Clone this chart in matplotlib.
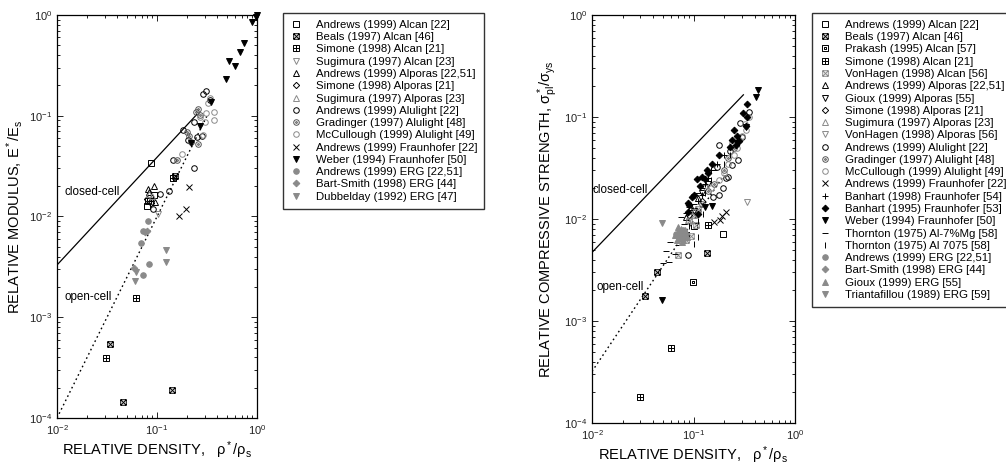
import matplotlib
matplotlib.use("Agg")
import matplotlib.pyplot as plt
from matplotlib.path import Path

plt.rcParams['font.family'] = ['Liberation Sans', 'DejaVu Sans']
plt.rcParams['mathtext.fontset'] = 'custom'
plt.rcParams['mathtext.rm'] = 'Liberation Sans'
plt.rcParams['mathtext.it'] = 'Liberation Sans:italic'

# ---------------- data: relative modulus (left) ----------------
E_andrews_alcan = [(0.088, 0.034), (0.082, 0.0143), (0.080, 0.0127), (0.093, 0.0163), (0.085, 0.0152)]
E_beals_alcan = [(0.034, 5.4e-4), (0.046, 1.45e-4), (0.142, 1.9e-4), (0.152, 0.0255)]
E_simone_alcan = [(0.031, 3.9e-4), (0.061, 1.55e-3), (0.146, 0.024)]
E_sugimura_alcan = [(0.103, 0.0105)]
E_andrews_alporas = [(0.093, 0.0203), (0.082, 0.0188), (0.095, 0.0140), (0.083, 0.0175)]
E_simone_alporas = [(0.087, 0.0135), (0.079, 0.0150)]
E_sugimura_alporas = [(0.083, 0.0166), (0.090, 0.0160)]
E_andrews_alulight = [(0.106, 0.0169), (0.091, 0.0118), (0.133, 0.018), (0.234, 0.030), (0.143, 0.036),
                      (0.309, 0.177), (0.29, 0.163), (0.34, 0.143), (0.234, 0.086), (0.183, 0.072),
                      (0.205, 0.058), (0.25, 0.061), (0.28, 0.063)]
E_gradinger = [(0.26, 0.116), (0.27, 0.102), (0.20, 0.069), (0.22, 0.055), (0.26, 0.053),
               (0.16, 0.036), (0.21, 0.063), (0.245, 0.11)]
E_mccullough = [(0.325, 0.133), (0.37, 0.11), (0.37, 0.091), (0.31, 0.106), (0.30, 0.087),
                (0.27, 0.098), (0.176, 0.042), (0.29, 0.065), (0.335, 0.15)]
E_andrews_fraun = [(0.21, 0.0195), (0.195, 0.0118), (0.166, 0.010)]
E_weber = [(1.0, 1.0), (0.98, 0.96), (0.885, 0.86), (0.74, 0.53), (0.68, 0.43), (0.52, 0.35),
           (0.60, 0.31), (0.49, 0.23), (0.35, 0.138), (0.27, 0.08), (0.22, 0.054)]
E_andrews_erg = [(0.082, 0.0091), (0.072, 0.0071), (0.069, 0.0055), (0.083, 0.0034), (0.072, 0.0026)]
E_bartsmith = [(0.079, 0.0071), (0.059, 0.0031), (0.075, 0.0070)]
E_dubbelday = [(0.122, 0.0046), (0.122, 0.0035), (0.061, 0.0028), (0.060, 0.0023)]

E_closed_line = [(0.01, 0.0033), (0.25, 0.103)]
E_open_line = [(0.01, 1e-4), (0.32, 0.102)]

# ---------------- data: relative strength (right) ----------------
S_andrews_alcan = [(0.197, 0.0071), (0.083, 0.0068), (0.10, 0.0085)]
S_beals_alcan = [(0.044, 0.0030), (0.033, 0.00177), (0.137, 0.0046)]
S_prakash_alcan = [(0.098, 0.0024), (0.085, 0.0069)]
S_simone_alcan = [(0.030, 1.8e-4), (0.060, 5.4e-4), (0.140, 0.0087)]
S_vonhagen_alcan = [(0.071, 0.0044), (0.080, 0.0075), (0.090, 0.0095), (0.100, 0.011), (0.085, 0.0062),
                    (0.095, 0.0068), (0.110, 0.0125), (0.075, 0.0069), (0.105, 0.0088)]
S_andrews_alporas = [(0.085, 0.0105), (0.11, 0.016), (0.095, 0.013)]
S_gioux_alporas = [(0.12, 0.018), (0.14, 0.022), (0.10, 0.012)]
S_simone_alporas = [(0.09, 0.011), (0.12, 0.015)]
S_sugimura_alporas = [(0.088, 0.0098), (0.10, 0.012)]
S_vonhagen_alporas = [(0.334, 0.0146), (0.13, 0.020)]
S_andrews_alulight = [(0.155, 0.0165), (0.178, 0.017), (0.35, 0.113), (0.29, 0.087), (0.30, 0.064),
                      (0.18, 0.053), (0.23, 0.046), (0.277, 0.038), (0.24, 0.034), (0.169, 0.032),
                      (0.22, 0.026), (0.21, 0.025), (0.197, 0.020), (0.089, 0.0044)]
S_gradinger = [(0.20, 0.030), (0.25, 0.050), (0.16, 0.022), (0.22, 0.040), (0.12, 0.014), (0.14, 0.019)]
S_mccullough = [(0.35, 0.10), (0.33, 0.075), (0.30, 0.065), (0.27, 0.050), (0.25, 0.042), (0.22, 0.035),
                (0.20, 0.028), (0.28, 0.060), (0.24, 0.055), (0.18, 0.024), (0.32, 0.085), (0.15, 0.020)]
S_andrews_fraun = [(0.16, 0.0094), (0.183, 0.0098), (0.19, 0.0107), (0.21, 0.0117)]
S_banhart98 = [(0.13, 0.022), (0.15, 0.030), (0.17, 0.035), (0.12, 0.017), (0.20, 0.042),
               (0.11, 0.015), (0.14, 0.025)]
S_banhart95 = [(0.334, 0.134), (0.31, 0.109), (0.334, 0.099), (0.33, 0.081), (0.25, 0.075), (0.24, 0.060),
               (0.26, 0.053), (0.23, 0.051), (0.18, 0.042), (0.151, 0.035), (0.135, 0.030), (0.13, 0.0245),
               (0.116, 0.021), (0.108, 0.0245), (0.10, 0.0173), (0.089, 0.0144), (0.096, 0.0165),
               (0.089, 0.0118), (0.111, 0.0113), (0.091, 0.0137), (0.27, 0.065), (0.28, 0.058),
               (0.12, 0.026), (0.14, 0.028)]
S_weber = [(0.435, 0.184), (0.41, 0.158), (0.33, 0.080), (0.151, 0.0133), (0.049, 0.0016),
           (0.13, 0.013), (0.27, 0.055)]
S_thornton_mg = [(0.059, 0.006), (0.058, 0.0038), (0.050, 0.0037), (0.054, 0.0049), (0.065, 0.0045),
                 (0.070, 0.0055), (0.080, 0.009), (0.10, 0.014), (0.12, 0.020), (0.09, 0.013),
                 (0.11, 0.018), (0.14, 0.028), (0.075, 0.0105), (0.16, 0.030), (0.085, 0.0115)]
S_thornton_7075 = [(0.101, 0.0057), (0.111, 0.0067), (0.123, 0.0113), (0.13, 0.018), (0.15, 0.024),
                   (0.09, 0.0085), (0.20, 0.035), (0.23, 0.042), (0.11, 0.0095)]
S_andrews_erg = [(0.072, 0.0068), (0.078, 0.0078), (0.068, 0.0072)]
S_bartsmith = [(0.075, 0.0065), (0.080, 0.0072)]
S_gioux_erg = [(0.066, 0.0070), (0.070, 0.0075), (0.072, 0.0065), (0.075, 0.0080), (0.078, 0.0062),
               (0.080, 0.0070), (0.069, 0.0062), (0.074, 0.0072), (0.082, 0.0078), (0.086, 0.0066),
               (0.071, 0.0083), (0.077, 0.0059)]
S_triantafillou = [(0.049, 0.0091)]

S_closed_line = [(0.01, 0.0047), (0.31, 0.165)]
S_open_line = [(0.01, 3.2e-4), (0.2, 0.027)]

# ---------------- marker shapes ----------------
SQ = Path([(-1, -1), (1, -1), (1, 1), (-1, 1), (-1, -1)], [1, 2, 2, 2, 79])
SQ_X = Path.make_compound_path(SQ, Path([(-1, -1), (1, 1), (-1, 1), (1, -1)], [1, 2, 1, 2]))
SQ_PLUS = Path.make_compound_path(SQ, Path([(0, -1), (0, 1), (-1, 0), (1, 0)], [1, 2, 1, 2]))
SQ_DOT = Path.make_compound_path(SQ, Path([(-.3, -.3), (.3, -.3), (.3, .3), (-.3, .3), (-.3, -.3)],
                                          [1, 2, 2, 2, 79]))
CIRC_DOT = Path.make_compound_path(Path.circle((0, 0), 1), Path.circle((0, 0), 0.3))

K = 'black'
G = '#8a8a8a'
DG = '#555555'


def st(marker, color, filled=False, ms=4.0):
    return dict(marker=marker, mec=color, mfc=color if filled else 'none', ms=ms, mew=0.7)


left_series = [
    ("Andrews (1999) Alcan [22]", E_andrews_alcan, st('s', K, ms=3.8)),
    ("Beals (1997) Alcan [46]", E_beals_alcan, st(SQ_X, K)),
    ("Simone (1998) Alcan [21]", E_simone_alcan, st(SQ_PLUS, K)),
    ("Sugimura (1997) Alcan [23]", E_sugimura_alcan, st('v', G)),
    ("Andrews (1999) Alporas [22,51]", E_andrews_alporas, st('^', K)),
    ("Simone (1998) Alporas [21]", E_simone_alporas, st('D', K, ms=3.2)),
    ("Sugimura (1997) Alporas [23]", E_sugimura_alporas, st('^', G)),
    ("Andrews (1999) Alulight [22]", E_andrews_alulight, st('o', K)),
    ("Gradinger (1997) Alulight [48]", E_gradinger, st(CIRC_DOT, DG)),
    ("McCullough (1999) Alulight [49]", E_mccullough, st('o', G)),
    ("Andrews (1999) Fraunhofer [22]", E_andrews_fraun, st('x', K)),
    ("Weber (1994) Fraunhofer [50]", E_weber, st('v', K, True)),
    ("Andrews (1999) ERG [22,51]", E_andrews_erg, st('o', G, True)),
    ("Bart-Smith (1998) ERG [44]", E_bartsmith, st('D', G, True, ms=3.4)),
    ("Dubbelday (1992) ERG [47]", E_dubbelday, st('v', G, True)),
]

right_series = [
    ("Andrews (1999) Alcan [22]", S_andrews_alcan, st('s', K, ms=3.8)),
    ("Beals (1997) Alcan [46]", S_beals_alcan, st(SQ_X, K)),
    ("Prakash (1995) Alcan [57]", S_prakash_alcan, st(SQ_DOT, K)),
    ("Simone (1998) Alcan [21]", S_simone_alcan, st(SQ_PLUS, K)),
    ("VonHagen (1998) Alcan [56]", S_vonhagen_alcan, st(SQ_X, G)),
    ("Andrews (1999) Alporas [22,51]", S_andrews_alporas, st('^', K)),
    ("Gioux (1999) Alporas [55]", S_gioux_alporas, st('v', K)),
    ("Simone (1998) Alporas [21]", S_simone_alporas, st('D', K, ms=3.2)),
    ("Sugimura (1997) Alporas [23]", S_sugimura_alporas, st('^', G)),
    ("VonHagen (1998) Alporas [56]", S_vonhagen_alporas, st('v', G)),
    ("Andrews (1999) Alulight [22]", S_andrews_alulight, st('o', K)),
    ("Gradinger (1997) Alulight [48]", S_gradinger, st(CIRC_DOT, DG)),
    ("McCullough (1999) Alulight [49]", S_mccullough, st('o', G)),
    ("Andrews (1999) Fraunhofer [22]", S_andrews_fraun, st('x', K)),
    ("Banhart (1998) Fraunhofer [54]", S_banhart98, st('+', K)),
    ("Banhart (1995) Fraunhofer [53]", S_banhart95, st('D', K, True, ms=3.4)),
    ("Weber (1994) Fraunhofer [50]", S_weber, st('v', K, True)),
    ("Thornton (1975) Al-7%Mg [58]", S_thornton_mg, st('_', K, ms=4.5)),
    ("Thornton (1975) Al 7075 [58]", S_thornton_7075, st('|', K, ms=4.5)),
    ("Andrews (1999) ERG [22,51]", S_andrews_erg, st('o', G, True)),
    ("Bart-Smith (1998) ERG [44]", S_bartsmith, st('D', G, True, ms=3.4)),
    ("Gioux (1999) ERG [55]", S_gioux_erg, st('^', G, True)),
    ("Triantafillou (1989) ERG [59]", S_triantafillou, st('v', G, True)),
]

fig = plt.figure(figsize=(10.06, 4.65), dpi=100)
ax1 = fig.add_axes([57 / 1006, 1 - 418 / 465, 200 / 1006, 403 / 465])
ax2 = fig.add_axes([592 / 1006, 1 - 423 / 465, 203 / 1006, 408 / 465])


def draw(ax, series, closed, opened, legend_x):
    xs, ys = zip(*closed)
    ax.plot(xs, ys, color='black', lw=0.9)
    xs, ys = zip(*opened)
    ax.plot(xs, ys, color='black', lw=1.0, ls=(0, (1.2, 2.2)))
    handles = []
    for label, pts, style in series:
        xs, ys = zip(*pts)
        h, = ax.plot(xs, ys, ls='none', label=label, clip_on=False, **style)
        handles.append(h)
    ax.set_xscale('log')
    ax.set_yscale('log')
    ax.set_xlim(1e-2, 1)
    ax.set_ylim(1e-4, 1)
    ax.tick_params(which='both', direction='in', top=True, right=True, labelsize=8,
                   colors='#222222', width=0.7)
    ax.tick_params(which='major', length=4)
    ax.tick_params(which='minor', length=2)
    for s in ax.spines.values():
        s.set_linewidth(0.9)
    ax.set_xlabel(r'RELATIVE DENSITY,   $\mathregular{\rho^*/\rho_s}$', fontsize=10.5, labelpad=2)
    fig.legend(handles=handles, loc='upper left', bbox_to_anchor=(legend_x, 1 - 13 / 465),
               fontsize=8.2, frameon=True, fancybox=False, edgecolor='#333333',
               framealpha=1, handlelength=1.0, handletextpad=1.3, labelspacing=0.2,
               borderpad=0.6, borderaxespad=0)


draw(ax1, left_series, E_closed_line, E_open_line, 283 / 1006)
draw(ax2, right_series, S_closed_line, S_open_line, 812 / 1006)

ax1.set_ylabel(r'RELATIVE MODULUS, $\mathregular{E^*/E_s}$', fontsize=10.5, labelpad=3)
ax2.set_ylabel(r'RELATIVE COMPRESSIVE STRENGTH, $\mathregular{\sigma^*_{pl}/\sigma_{ys}}$',
               fontsize=10.5, labelpad=3)

ax1.text(0.0118, 0.0175, 'closed-cell', fontsize=8.4, va='center')
ax1.text(0.0118, 0.00158, 'open-cell', fontsize=8.4, va='center')
ax2.text(0.0102, 0.0192, 'closed-cell', fontsize=8.4, va='center')
ax2.text(0.0112, 0.00215, 'open-cell', fontsize=8.4, va='center')

fig.savefig('out.png', dpi=100)
